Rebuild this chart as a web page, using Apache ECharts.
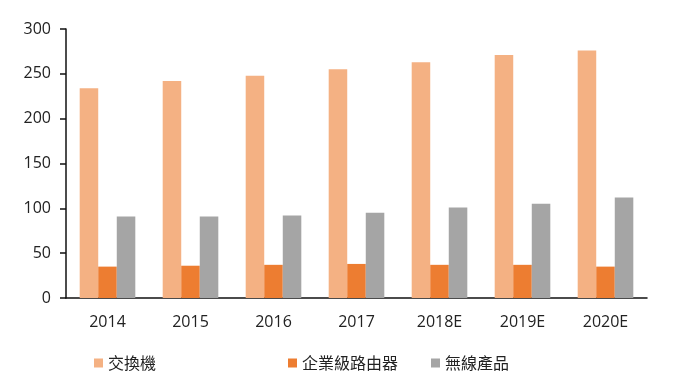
<!DOCTYPE html>
<html>
<head>
<meta charset="utf-8">
<script src="https://cdn.jsdelivr.net/npm/echarts@6/dist/echarts.min.js"></script>
<style>html,body{margin:0;padding:0;background:#fff;}#c{width:680px;height:377px;}</style>
</head>
<body>
<div id="c"></div>
<script>
var categories = ['2014', '2015', '2016', '2017', '2018E', '2019E', '2020E'];
var switches = [234, 242, 248, 255, 263, 271, 276];
var routers = [35, 36, 37, 38, 37, 37, 35];
var wireless = [91, 91, 92, 95, 101, 105, 112];
var yTicks = [0, 50, 100, 150, 200, 250, 300];
var names = ['交換機', '企業級路由器', '無線產品'];

var chart = echarts.init(document.getElementById('c'));
var font = "'Open Sans', 'Noto Sans CJK TC', sans-serif";
var legendText = { fontSize: 16, color: '#222', fontFamily: "'Noto Sans CJK TC', sans-serif" };
chart.setOption({
  animation: false,
  grid: { left: 66, right: 33, top: 29, bottom: 79 },
  legend: [
    { data: [names[0]], left: 89, top: 350, itemWidth: 9, itemHeight: 9, icon: 'rect', textStyle: legendText },
    { data: [names[1]], left: 283, top: 350, itemWidth: 9, itemHeight: 9, icon: 'rect', textStyle: legendText },
    { data: [names[2]], left: 426, top: 350, itemWidth: 9, itemHeight: 9, icon: 'rect', textStyle: legendText }
  ],
  xAxis: {
    type: 'category',
    data: categories,
    axisLine: { lineStyle: { color: '#111', width: 1.5 } },
    axisTick: { inside: true, length: 5, lineStyle: { color: '#111', width: 1.5 } },
    axisLabel: { fontSize: 16, color: '#222', fontFamily: font, margin: 16 }
  },
  yAxis: {
    type: 'value',
    min: 0, max: 300, interval: 50,
    axisLine: { show: true, lineStyle: { color: '#111', width: 1.5 } },
    axisTick: { show: true, length: 6, lineStyle: { color: '#111', width: 1.5 } },
    splitLine: { show: false },
    axisLabel: {
      fontSize: 16, color: '#222', fontFamily: font, margin: 15,
      formatter: function (v) { return yTicks.indexOf(v) >= 0 ? String(v) : ''; }
    }
  },
  series: [
    { name: names[0], type: 'bar', data: switches, itemStyle: { color: '#F4B183' }, barGap: '0%', barCategoryGap: '33%' },
    { name: names[1], type: 'bar', data: routers, itemStyle: { color: '#ED7D31' }, barGap: '0%', barCategoryGap: '33%' },
    { name: names[2], type: 'bar', data: wireless, itemStyle: { color: '#A5A5A5' }, barGap: '0%', barCategoryGap: '33%' }
  ]
});
</script>
</body>
</html>
